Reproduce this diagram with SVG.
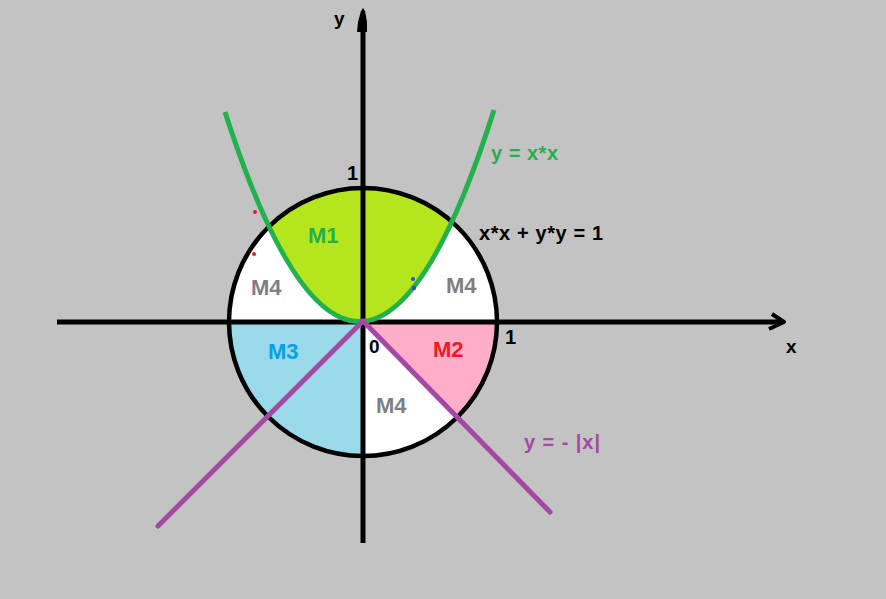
<svg xmlns="http://www.w3.org/2000/svg" width="886" height="599" viewBox="0 0 886 599">
<style>
.t{font-family:"Liberation Sans",Arial,sans-serif;font-weight:bold}
.m{font-size:22px}
.ax{stroke:#000;stroke-width:5;fill:none}
</style>
<defs>
<clipPath id="parab"><path d="M225,112 Q360,532 494,110 Z"/></clipPath>
</defs>
<rect width="886" height="599" fill="#c3c3c3"/>
<g id="regions">
<circle cx="363" cy="322" r="134" fill="#ffffff"/>
<circle cx="363" cy="322" r="134" fill="#b5e61d" clip-path="url(#parab)"/>
<path d="M363,322 L497,322 A134,134 0 0 1 457.75,416.75 Z" fill="#ffaec9"/>
<path d="M363,322 L363,456 A134,134 0 0 1 229,322 Z" fill="#99d9ea"/>
<circle cx="363" cy="322" r="134" fill="none" stroke="#000" stroke-width="4.5"/>
</g>
<g id="axes">
<line class="ax" x1="363" y1="28" x2="363" y2="543"/>
<path d="M357,32 L358,22 L361,11 L363,8 L365,11 L367,22 L367,32 Z" fill="#000"/>
<line class="ax" x1="57" y1="322" x2="782" y2="322"/>
<polyline points="772,314 784,322 769,329" fill="none" stroke="#000" stroke-width="4" stroke-linejoin="round"/>
</g>
<g id="curves">
<path d="M225,112 Q360,532 494,110" fill="none" stroke="#22b14c" stroke-width="5"/>
<polyline points="158,526 363,321 550,512" fill="none" stroke="#a349a4" stroke-width="5" stroke-linecap="round" stroke-linejoin="round"/>
</g>
<g id="dots">
<circle cx="255" cy="212" r="2" fill="#ed1c24"/>
<circle cx="254" cy="254" r="2" fill="#ed1c24"/>
<circle cx="413" cy="279" r="2" fill="#3f48cc"/>
<circle cx="414" cy="288" r="2.2" fill="#3f48cc"/>
</g>
<g id="labels" class="t">
<text x="334" y="25" font-size="19">y</text>
<text x="786" y="353" font-size="19">x</text>
<text x="347" y="180" font-size="20">1</text>
<text x="505" y="344" font-size="20">1</text>
<text x="369" y="353" font-size="19">0</text>
<text x="308" y="243" class="m" fill="#22b14c">M1</text>
<text x="251" y="295" class="m" fill="#7f7f7f">M4</text>
<text x="446" y="293" class="m" fill="#7f7f7f">M4</text>
<text x="268" y="359" class="m" fill="#00a2e8">M3</text>
<text x="433" y="357" class="m" fill="#ed1c24">M2</text>
<text x="376" y="413" class="m" fill="#7f7f7f">M4</text>
<text x="491" y="160" font-size="20" fill="#22b14c" textLength="67">y = x*x</text>
<text x="479" y="240" font-size="20" fill="#000" textLength="124">x*x + y*y = 1</text>
<text x="524" y="449" font-size="20" fill="#a349a4" textLength="76">y = - |x|</text>
</g>
</svg>
